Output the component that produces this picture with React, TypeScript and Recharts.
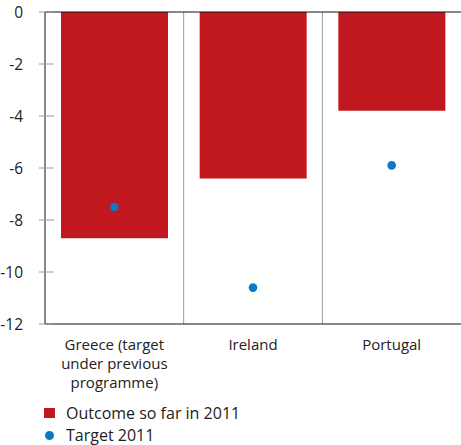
import { ComposedChart, Bar, Scatter, XAxis, YAxis, ReferenceLine } from 'recharts';

const categories = ['Greece (target\nunder previous\nprogramme)', 'Ireland', 'Portugal'];
const outcome = [-8.7, -6.4, -3.8];
const target = [-7.5, -10.6, -5.9];
const yTicks = [0, -2, -4, -6, -8, -10, -12];
const legendLabels = ['Outcome so far in 2011', 'Target 2011'];

const RED = '#c1171f';
const BLUE = '#0a7bc3';
const FONT = '"Open Sans", sans-serif';

const data = categories.map((name, i) => ({ name, outcome: outcome[i], target: target[i] }));

const YTick = ({ x, y, payload }: any) => (
  <g>
    <line x1={x + 16} x2={x + 31} y1={y} y2={y} stroke="#9a9a9a" strokeWidth={1} />
    <text x={x} y={y} textAnchor="end" dominantBaseline="central" fill="#222" fontSize={15.5} fontFamily={FONT}>
      {payload.value}
    </text>
  </g>
);

const XTick = ({ x, y, payload }: any) => {
  const lines = String(payload.value).split('\n');
  return (
    <text x={x} y={y + 18} textAnchor="middle" fill="#222" fontSize={15} fontFamily={FONT}>
      {lines.map((l, i) => (
        <tspan key={i} x={x} dy={i === 0 ? 0 : 19}>{l}</tspan>
      ))}
    </text>
  );
};

const Dot = ({ cx, cy }: any) => <circle cx={cx} cy={cy} r={4.3} fill={BLUE} />;

export default function App() {
  return (
    <div style={{ position: 'absolute', left: 0, top: 0, width: 461, height: 445, background: '#fff' }}>
      <ComposedChart width={461} height={445} data={data} margin={{ top: 12, right: 0, bottom: 0, left: 0 }}>
        <XAxis dataKey="name" height={121} tickLine={false} axisLine={{ stroke: '#111' }} tick={<XTick />} interval={0} />
        <YAxis
          domain={[-12, 0]}
          ticks={yTicks}
          width={45}
          tickLine={false}
          tickMargin={16}
          axisLine={{ stroke: '#111' }}
          tick={<YTick />}
          interval={0}
        />
        <ReferenceLine x={categories[1]} position="start" stroke="#9a9a9a" />
        <ReferenceLine x={categories[2]} position="start" stroke="#9a9a9a" />
        <Bar dataKey="outcome" fill={RED} barSize={107} isAnimationActive={false} />
        <ReferenceLine y={0} stroke="#111" />
        <Scatter dataKey="target" shape={<Dot />} isAnimationActive={false} />
      </ComposedChart>
      <div style={{ position: 'absolute', left: 44, top: 401, fontFamily: FONT, fontSize: 16, lineHeight: '20px', color: '#222' }}>
        <div style={{ display: 'flex', alignItems: 'center', height: 24 }}>
          <span style={{ width: 11, height: 10, background: RED, display: 'inline-block', marginRight: 11 }} />
          {legendLabels[0]}
        </div>
        <div style={{ display: 'flex', alignItems: 'center', height: 20 }}>
          <span style={{ width: 9, height: 9, borderRadius: '50%', background: BLUE, display: 'inline-block', marginLeft: 1, marginRight: 12 }} />
          {legendLabels[1]}
        </div>
      </div>
    </div>
  );
}
